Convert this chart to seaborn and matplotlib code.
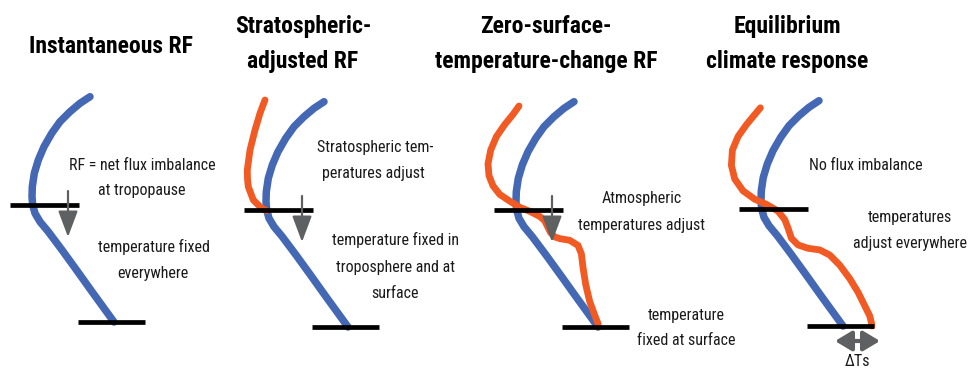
import matplotlib
matplotlib.use("Agg")
import matplotlib.pyplot as plt
from matplotlib import font_manager
import pandas as pd
import seaborn as sns

# Blue reference profile (temperature offset, height) relative to the surface point
blue_dT = [-24, -34, -44, -54, -62.3, -70, -75.7, -79.7, -81.7, -82, -81.3, -79, -74, -65.7,
           -52, -37.5, -22, 0]
blue_z = [225.3, 218.7, 210.3, 200.3, 188.7, 175.3, 162, 148.7, 135.3, 125.3, 117, 108.7, 100.3, 90.3,
          72, 52, 30.3, 0]

# Orange (adjusted) profiles, one per panel; panel 1 has none
strat_dT = [-83, -85.5, -88, -93, -98, -100.7, -100.5, -99.7, -94.7, -86.3, -81.3]
strat_z = [227, 220.5, 213.7, 197, 177, 157, 148, 140.3, 127, 118.7, 116.3]

zero_dT = [-79, -85, -93.3, -101.6, -107.3, -110, -109, -105, -98.3, -88.3, -78.3, -68.3, -58.3,
           -53.5, -50.5, -47.5, -43.5, -38.3, -28.3, -20, -16.6, -15, -12.3, -8.3, -3.3, 0, 0]
zero_z = [221, 212.6, 202.4, 190.4, 176.9, 163.2, 151.4, 141.2, 132.6, 125.9, 119.7, 115.7, 110.6,
          106.5, 100.5, 94.5, 90.2, 88.4, 86.7, 81.6, 73.1, 59.6, 42.5, 25.5, 11.9, 3.5, 0]

equil_dT = [-82.6, -88.3, -96.6, -105, -110.6, -111.6, -108.3, -100, -88.3, -76.6, -65, -58.3, -55,
            -51.6, -45, -35, -23.3, -13.3, -3.3, 6.7, 15, 21.7, 26.7, 28.4, 29]
equil_z = [218.2, 211.4, 201.3, 189.4, 175.9, 160.6, 147.1, 135.2, 126.8, 121.7, 114.9, 106.5, 98,
           87.8, 81.1, 77.7, 76.1, 71, 60.9, 47.4, 33.8, 20.3, 10.2, 3.4, 0]

orange_profiles = [None, (strat_dT, strat_z), (zero_dT, zero_z), (equil_dT, equil_z)]

titles = [["Instantaneous RF"],
          ["Stratospheric-", "adjusted RF"],
          ["Zero-surface-", "temperature-change RF"],
          ["Equilibrium", "climate response"]]

tropopause_z = 117
surface_dT = 29  # equilibrium surface warming (ΔTs)

# layout (pixels)
panel_origin = [(114, 322), (348, 327), (598, 327), (843, 326)]
title_x = [111, 303, 546, 787]
title_y = {1: [53], 2: [33, 68]}

notes = [
    [("RF = net flux imbalance", 142, 170), ("at tropopause", 142, 195),
     ("temperature fixed", 154, 252), ("everywhere", 153, 278)],
    [("Stratospheric tem-", 375, 152), ("peratures adjust", 373, 178),
     ("temperature fixed in", 395, 245), ("troposphere and at", 395, 272), ("surface", 395, 298)],
    [("Atmospheric", 642, 203), ("temperatures adjust", 642, 230),
     ("temperature", 686, 320), ("fixed at surface", 686, 345)],
    [("No flux imbalance", 866, 170), ("temperatures", 910, 222), ("adjust everywhere", 910, 248)],
]

BLUE = "#4468B4"
ORANGE = "#F15A22"
GREY = "#5F6062"

sns.set_style("white")
installed = {f.name for f in font_manager.fontManager.ttflist}
narrow = next((f for f in ["Liberation Sans Narrow", "Roboto Condensed", "DejaVu Sans Condensed"]
               if f in installed), None)
if narrow:
    font_family, body_size, title_size = [narrow, "DejaVu Sans"], 11.5, 17
else:
    font_family, body_size, title_size = ["Lato", "DejaVu Sans"], 10.5, 14
plt.rcParams["font.family"] = font_family

fig = plt.figure(figsize=(9.73, 3.69), dpi=100)
ax = fig.add_axes([0, 0, 1, 1])
ax.set_xlim(0, 973)
ax.set_ylim(369, 0)
ax.axis("off")

for i, (x0, y0) in enumerate(panel_origin):
    blue = pd.DataFrame({"x": [x0 + d for d in blue_dT], "y": [y0 - z for z in blue_z]})
    sns.lineplot(data=blue, x="x", y="y", sort=False, estimator=None, color=BLUE,
                 linewidth=5.4, solid_capstyle="round", solid_joinstyle="round", ax=ax)
    if orange_profiles[i] is not None:
        dT, zz = orange_profiles[i]
        orange = pd.DataFrame({"x": [x0 + d for d in dT], "y": [y0 - z for z in zz]})
        sns.lineplot(data=orange, x="x", y="y", sort=False, estimator=None, color=ORANGE,
                     linewidth=4.9, solid_capstyle="round", solid_joinstyle="round", ax=ax)
    # tropopause and surface
    ax.hlines(y0 - tropopause_z, x0 - 104, x0 - 35, color="black", lw=3.4)
    ax.hlines(y0, x0 - 36, x0 + 31, color="black", lw=3.4)
    # downward flux arrow at the tropopause
    if i < 3:
        ax.annotate("", xy=(x0 - 46, y0 - 85), xytext=(x0 - 46, y0 - 131),
                    arrowprops=dict(arrowstyle="-|>,head_length=0.8,head_width=0.3",
                                    mutation_scale=20, color=GREY, lw=1.6,
                                    shrinkA=0, shrinkB=0))
    # titles
    ys = title_y[len(titles[i])]
    for line, ty in zip(titles[i], ys):
        ax.text(title_x[i], ty, line, ha="center", va="baseline", fontsize=title_size,
                fontweight="bold", color="black")
    for txt, tx, ty in notes[i]:
        ax.text(tx, ty, txt, ha="center", va="baseline", fontsize=body_size, color="#1a1a1a")

# ΔTs double arrow under the equilibrium panel
x0, y0 = panel_origin[3]
ax.annotate("", xy=(x0 - 8, y0 + 15), xytext=(x0 + surface_dT + 8, y0 + 15),
            arrowprops=dict(arrowstyle="<|-|>,head_length=0.5,head_width=0.3",
                            mutation_scale=20, color=GREY, lw=3, shrinkA=0, shrinkB=0))
ax.text(857, 366, "ΔTs", ha="center", va="baseline", fontsize=body_size, color="#1a1a1a")

fig.savefig("out.png", dpi=100)
